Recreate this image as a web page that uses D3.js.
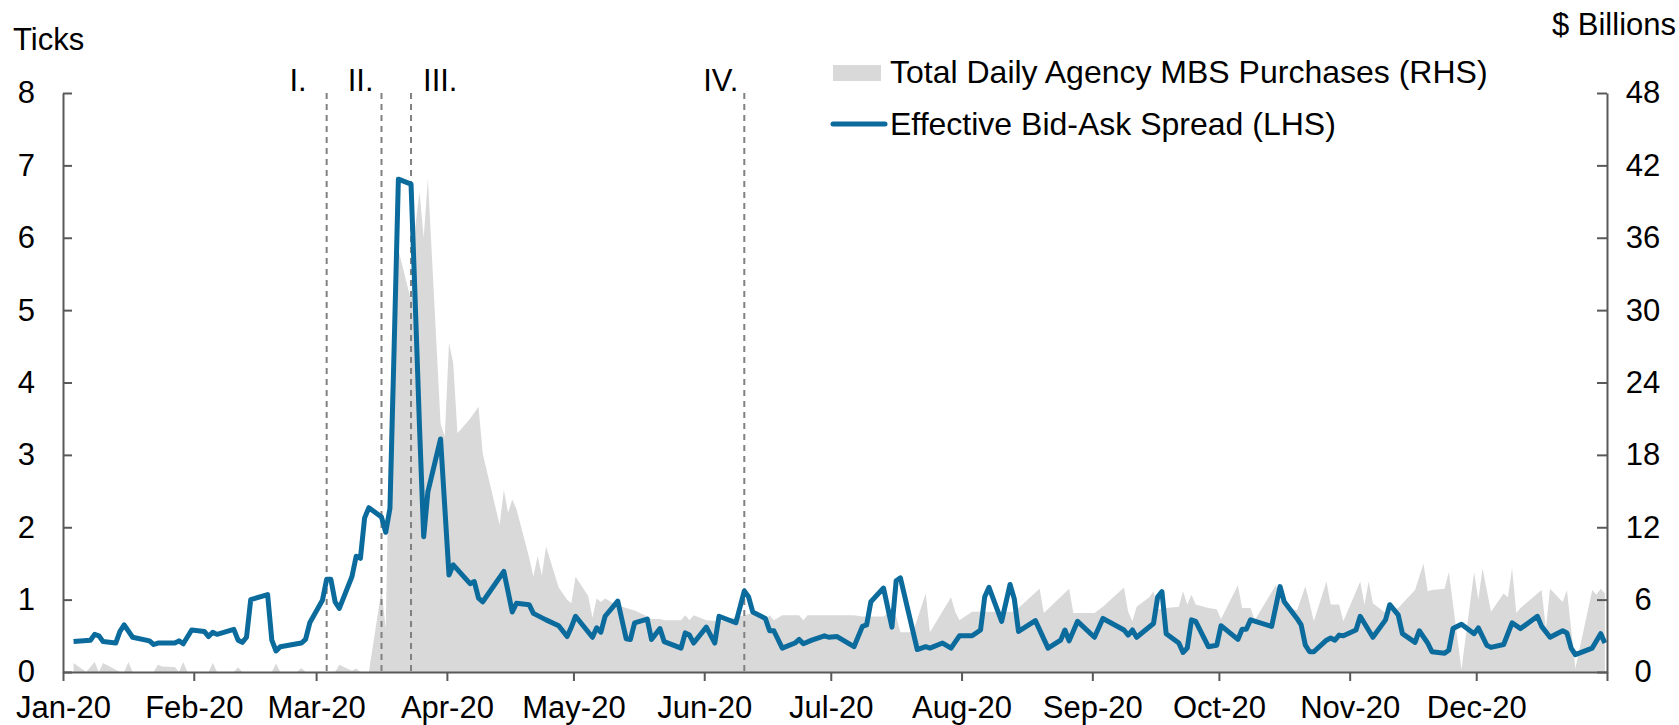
<!DOCTYPE html>
<html lang="en">
<head>
<meta charset="UTF-8">
<script src="https://d3js.org/d3.v7.min.js"></script>
<style>
  body { margin: 0; background: #fff; }
  svg text { font-family: "Liberation Sans", Arial, sans-serif; font-size: 31px; fill: #000; }
  .axis path, .axis line { stroke: #595959; stroke-width: 2; }
</style>
<title>MBS bid-ask spread</title>
</head>
<body>
<svg width="1679" height="725"></svg>
<script>
// effective bid-ask spread, ticks (LHS) - [month-day, value]
const spread = [
  ["01-03",0.42],["01-07",0.44],["01-08",0.52],["01-09",0.50],["01-10",0.42],["01-13",0.40],["01-14",0.56],
  ["01-15",0.65],["01-17",0.48],["01-21",0.43],["01-22",0.38],["01-23",0.40],["01-27",0.40],["01-28",0.43],
  ["01-29",0.39],["01-31",0.58],["02-03",0.56],["02-04",0.49],["02-05",0.55],["02-06",0.52],["02-10",0.59],
  ["02-11",0.44],["02-12",0.41],["02-13",0.48],["02-14",1.00],["02-18",1.07],["02-19",0.44],["02-20",0.29],
  ["02-21",0.35],["02-24",0.38],["02-26",0.40],["02-27",0.45],["02-28",0.68],["03-02",0.99],["03-03",1.28],
  ["03-04",1.28],["03-05",0.97],["03-06",0.88],["03-09",1.32],["03-10",1.60],["03-11",1.57],["03-12",2.13],
  ["03-13",2.27],["03-16",2.14],["03-17",1.93],["03-18",2.26],["03-19",4.5],["03-20",6.81],["03-23",6.74],
  ["03-24",5.1],["03-25",3.4],["03-26",1.87],["03-27",2.49],["03-30",3.22],["04-01",1.34],["04-02",1.48],
  ["04-06",1.22],["04-07",1.25],["04-08",1.02],["04-09",0.97],["04-14",1.39],["04-16",0.83],["04-17",0.95],
  ["04-20",0.93],["04-21",0.81],["04-24",0.72],["04-27",0.64],["04-29",0.49],["04-30",0.62],["05-01",0.77],
  ["05-05",0.48],["05-06",0.61],["05-07",0.55],["05-08",0.77],["05-11",0.98],["05-13",0.46],["05-14",0.45],
  ["05-15",0.68],["05-18",0.73],["05-19",0.45],["05-21",0.60],["05-22",0.42],["05-26",0.33],["05-27",0.54],
  ["05-28",0.51],["05-29",0.40],["06-01",0.62],["06-03",0.40],["06-04",0.77],["06-08",0.68],["06-10",1.12],
  ["06-11",1.04],["06-12",0.83],["06-15",0.74],["06-16",0.57],["06-17",0.57],["06-19",0.33],["06-22",0.40],
  ["06-23",0.45],["06-24",0.39],["06-26",0.44],["06-29",0.50],["06-30",0.48],["07-02",0.49],["07-06",0.35],
  ["07-08",0.63],["07-09",0.65],["07-10",0.97],["07-13",1.16],["07-15",0.62],["07-16",1.26],["07-17",1.30],
  ["07-21",0.31],["07-23",0.35],["07-24",0.33],["07-27",0.40],["07-29",0.33],["07-31",0.50],["08-03",0.50],
  ["08-05",0.58],["08-06",1.04],["08-07",1.17],["08-10",0.70],["08-12",1.21],["08-13",1.01],["08-14",0.56],
  ["08-18",0.71],["08-21",0.33],["08-24",0.44],["08-25",0.58],["08-26",0.43],["08-28",0.70],["09-01",0.48],
  ["09-03",0.74],["09-08",0.58],["09-09",0.51],["09-10",0.58],["09-11",0.48],["09-15",0.67],["09-16",1.04],
  ["09-17",1.11],["09-18",0.53],["09-21",0.40],["09-22",0.27],["09-23",0.33],["09-24",0.72],["09-25",0.70],
  ["09-28",0.35],["09-30",0.37],["10-01",0.64],["10-05",0.45],["10-06",0.59],["10-07",0.59],["10-08",0.72],
  ["10-13",0.63],["10-15",1.18],["10-16",0.97],["10-19",0.74],["10-20",0.65],["10-21",0.37],["10-22",0.28],
  ["10-23",0.28],["10-26",0.44],["10-27",0.47],["10-28",0.44],["10-29",0.51],["10-30",0.50],["11-02",0.58],
  ["11-03",0.77],["11-06",0.48],["11-09",0.72],["11-10",0.93],["11-12",0.79],["11-13",0.53],["11-16",0.41],
  ["11-17",0.57],["11-19",0.40],["11-20",0.28],["11-23",0.26],["11-24",0.30],["11-25",0.60],["11-27",0.66],
  ["11-30",0.53],["12-01",0.61],["12-03",0.37],["12-04",0.34],["12-07",0.38],["12-09",0.68],["12-11",0.60],
  ["12-15",0.77],["12-16",0.63],["12-18",0.48],["12-21",0.57],["12-22",0.54],["12-23",0.33],["12-24",0.24],
  ["12-28",0.33],["12-30",0.53],["12-31",0.40]
];

// total daily agency MBS purchases, $ billions (RHS)
const purchases = [
  ["01-03",0.75],["01-06",0],["01-08",0.83],["01-09",0],["01-10",0.75],["01-14",0],["01-15",0],["01-16",0.83],
  ["01-17",0],["01-22",0],["01-23",0.6],["01-24",0.45],["01-27",0.42],["01-28",0],["01-29",0.83],["01-30",0],
  ["02-04",0],["02-05",0.77],["02-06",0],["02-10",0],["02-11",0.4],["02-12",0],["02-19",0],["02-20",0.7],
  ["02-21",0],["02-25",0],["02-26",0.33],["02-27",0],["03-05",0],["03-06",0.6],["03-09",0.1],["03-10",0.28],
  ["03-11",0],["03-13",0],["03-16",6.8],["03-17",3.6],["03-18",22],["03-19",29],["03-20",35],["03-23",30.8],
  ["03-24",36.9],["03-25",39.8],["03-26",36.0],["03-27",40.9],["03-30",20.6],["03-31",19.5],["04-01",27.3],
  ["04-02",25.6],["04-03",19.8],["04-06",21.0],["04-07",21.5],["04-08",22.0],["04-09",18.1],["04-13",12.2],
  ["04-14",15.1],["04-15",13.2],["04-16",14.3],["04-17",13.5],["04-20",9.5],["04-21",7.9],["04-22",9.6],
  ["04-23",8.0],["04-24",10.4],["04-27",7.0],["04-28",6.5],["04-29",6.0],["04-30",5.7],["05-01",7.9],
  ["05-04",6.3],["05-05",4.5],["05-06",6.1],["05-07",5.8],["05-08",6.1],["05-11",5.5],["05-12",5.4],
  ["05-15",5.1],["05-18",4.6],["05-19",4.4],["05-21",4.4],["05-22",4.3],["05-26",4.3],["05-27",4.7],
  ["05-28",4.3],["05-29",4.7],["06-01",4.3],["06-04",4.2],["06-10",4.7],["06-12",4.9],["06-15",4.3],
  ["06-16",4.7],["06-17",4.3],["06-19",4.7],["06-23",4.7],["06-24",4.3],["06-25",4.7],["07-06",4.7],
  ["07-08",4.6],["07-13",4.6],["07-14",4.9],["07-16",4.6],["07-17",3.3],["07-20",3.3],["07-23",6.5],
  ["07-24",3.3],["07-29",6.2],["07-30",5.0],["07-31",4.3],["08-03",5.0],["08-13",5.0],["08-19",6.9],
  ["08-20",4.9],["08-26",6.9],["08-27",4.9],["09-01",4.9],["09-03",5.4],["09-08",7.0],["09-09",5.0],
  ["09-10",4.2],["09-11",5.4],["09-14",6.2],["09-15",6.7],["09-16",5.2],["09-18",5.3],["09-21",5.4],
  ["09-22",6.7],["09-23",5.6],["09-24",6.4],["09-25",5.6],["09-28",5.3],["09-30",5.2],["10-01",4.4],
  ["10-05",7.2],["10-06",5.3],["10-08",5.3],["10-09",4.3],["10-14",7.2],["10-16",5.5],["10-19",5.1],
  ["10-21",7.1],["10-22",5.7],["10-23",4.2],["10-26",7.5],["10-27",5.6],["10-29",5.6],["10-30",4.2],
  ["11-03",7.5],["11-04",5.6],["11-05",7.5],["11-06",5.7],["11-09",4.9],["11-12",5.3],["11-16",6.8],
  ["11-18",9.0],["11-19",6.7],["11-20",6.8],["11-23",6.9],["11-24",8.3],["11-27",0.2],["11-30",8.3],
  ["12-01",6.0],["12-02",8.6],["12-04",5.0],["12-07",6.5],["12-08",6.2],["12-09",8.6],["12-10",4.9],
  ["12-11",5.3],["12-16",6.8],["12-17",3.6],["12-18",6.9],["12-21",5.8],["12-22",6.8],["12-24",0.3],
  ["12-28",6.8],["12-29",6.4],["12-30",6.9],["12-31",6.5]
];

// policy events (vertical dashed lines)
const eventDates = ["03-03", "03-16", "03-23", "06-10"];
const eventLabels = ["I.", "II.", "III.", "IV."];

const leftTicks = [0, 1, 2, 3, 4, 5, 6, 7, 8];
const rightTicks = [0, 6, 12, 18, 24, 30, 36, 42, 48];
const monthLabels = ["Jan-20", "Feb-20", "Mar-20", "Apr-20", "May-20", "Jun-20",
                     "Jul-20", "Aug-20", "Sep-20", "Oct-20", "Nov-20", "Dec-20", ""];

const parse = s => d3.utcParse("%Y-%m-%d")("2020-" + s);
// excel date axis puts each day in the middle of its slot
const mid = s => d3.utcHour.offset(parse(s), 12);

const svg = d3.select("svg");
const plotLeft = 63, plotRight = 1607, plotTop = 93, plotBottom = 672;

const x = d3.scaleUtc()
  .domain([new Date(Date.UTC(2020, 0, 1)), new Date(Date.UTC(2021, 0, 1))])
  .range([plotLeft, plotRight]);
const yL = d3.scaleLinear().domain([0, 8]).range([plotBottom, plotTop]);
const yR = d3.scaleLinear().domain([0, 48]).range([plotBottom, plotTop]);

// grey area of purchases
svg.append("path")
  .datum(purchases)
  .attr("fill", "#d9d9d9")
  .attr("d", d3.area()
    .x(d => x(mid(d[0])))
    .y0(yR(0))
    .y1(d => yR(d[1])));

// event lines + labels
const labelDx = [-20, -8, 12, -6];
eventDates.forEach((e, i) => {
  const ex = x(mid(e));
  svg.append("line")
    .attr("x1", ex).attr("x2", ex)
    .attr("y1", plotTop).attr("y2", plotBottom)
    .attr("stroke", "#808080")
    .attr("stroke-width", 2)
    .attr("stroke-dasharray", "6 5");
  svg.append("text")
    .attr("x", ex + labelDx[i])
    .attr("y", 91)
    .attr("text-anchor", labelDx[i] < 0 ? "end" : "start")
    .text(eventLabels[i]);
});

// spread line
svg.append("path")
  .datum(spread)
  .attr("fill", "none")
  .attr("stroke", "#0b6b9d")
  .attr("stroke-width", 5)
  .attr("stroke-linejoin", "round")
  .attr("d", d3.line()
    .x(d => x(mid(d[0])))
    .y(d => yL(d[1])));

// axes
const monthTicks = d3.utcMonth.range(new Date(Date.UTC(2020, 0, 1)), new Date(Date.UTC(2021, 0, 2)));
svg.append("g")
  .attr("class", "axis")
  .attr("transform", `translate(0,${plotBottom})`)
  .call(d3.axisBottom(x)
    .tickValues(monthTicks)
    .tickFormat((d, i) => monthLabels[i])
    .tickSizeInner(9).tickSizeOuter(0).tickPadding(15));

svg.append("g")
  .attr("class", "axis")
  .attr("transform", `translate(${plotLeft},0)`)
  .call(d3.axisLeft(yL)
    .tickValues(leftTicks)
    .tickSizeInner(-9).tickSizeOuter(0).tickPadding(28));

svg.append("g")
  .attr("class", "axis")
  .attr("transform", `translate(${plotRight},0)`)
  .call(d3.axisRight(yR)
    .tickValues(rightTicks)
    .tickSizeInner(-10).tickSizeOuter(0).tickPadding(36))
  .call(g => g.selectAll("text").attr("text-anchor", "middle"));

svg.selectAll(".axis text").attr("font-family", null).attr("font-size", null).attr("fill", "#000");
svg.selectAll(".axis").attr("font-family", null).attr("font-size", null);

// axis titles
svg.append("text").attr("x", 13).attr("y", 50).text("Ticks");
svg.append("text").attr("x", 1676).attr("y", 35).attr("text-anchor", "end").text("$ Billions");

// legend
svg.append("rect")
  .attr("x", 833).attr("y", 65).attr("width", 48).attr("height", 16)
  .attr("fill", "#d9d9d9");
svg.append("text").attr("x", 890).attr("y", 83).style("font-size", "32px")
  .text("Total Daily Agency MBS Purchases (RHS)");
svg.append("line")
  .attr("x1", 833).attr("x2", 885).attr("y1", 124).attr("y2", 124)
  .attr("stroke", "#0b6b9d").attr("stroke-width", 5).attr("stroke-linecap", "round");
svg.append("text").attr("x", 890).attr("y", 135).style("font-size", "32px")
  .text("Effective Bid-Ask Spread (LHS)");
</script>
</body>
</html>
